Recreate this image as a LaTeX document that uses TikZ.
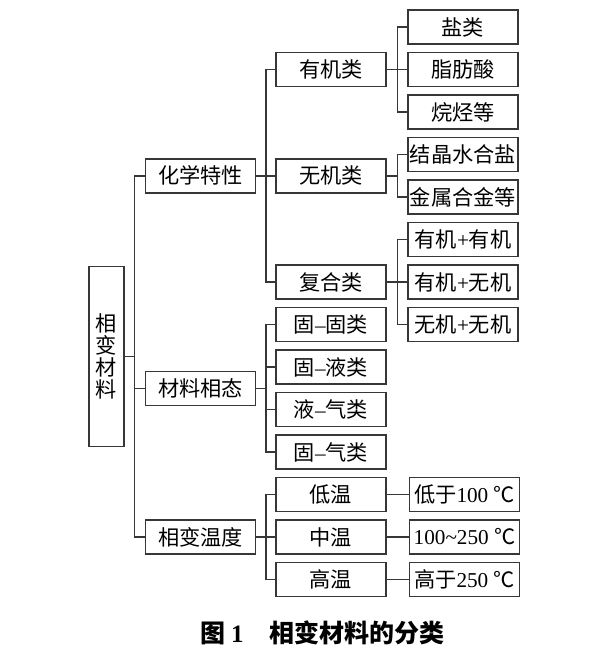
\documentclass[tikz,border=0pt]{standalone}
\usepackage{fontspec}
\setmainfont{Liberation Serif}
\newfontfamily\cjk{Noto Sans CJK SC}
\usetikzlibrary{positioning}
\definecolor{inkgray}{RGB}{55,55,55}
\newcommand\latn[1]{{\rmfamily #1}}

\begin{document}
\begin{tikzpicture}[
  x=0.5pt, y=-0.5pt,
  box/.style={draw=inkgray, line width=0.75pt, minimum height=17pt, minimum width=55pt, inner sep=1pt, align=center, font=\fontsize{10.6}{11}\selectfont\cjk},
  rootbox/.style={box, minimum width=17.5pt, minimum height=90pt},
  link/.style={draw=inkgray, line width=0.75pt}
]
\useasboundingbox (0,0) rectangle (600,661);

% root and first level
\node[rootbox] (root) at (106.5,356.4) {相\\变\\材\\料};
\node[box] (huaxue) at (200.5,175.75) {化学特性};
\node[box] (xiangtai) at (200.5,388.25) {材料相态};
\node[box] (wendu) at (200.5,537) {相变温度};

% second level
\node[box] (youji) at (331,69.5) {有机类};
\node[box] (wuji) at (331,175.75) {无机类};
\node[box] (fuhe) at (331,282) {复合类};
\node[box] (gg) at (331,324.5) {固\latn{--}固类};
\node[box] (gy) at (331,367) {固\latn{--}液类};
\node[box] (yq) at (331,409.5) {液\latn{--}气类};
\node[box] (gq) at (331,452) {固\latn{--}气类};
\node[box] (diwen) at (331,494.5) {低温};
\node[box] (zhongwen) at (331,537) {中温};
\node[box] (gaowen) at (331,579.5) {高温};

% third level
\node[box] (yan) at (463,27) {盐类};
\node[box] (zhifang) at (463,69.5) {脂肪酸};
\node[box] (wanting) at (463,112) {烷烃等};
\node[box] (jiejing) at (463,154.5) {结晶水合盐};
\node[box] (jinshu) at (463,197) {金属合金等};
\node[box] (yy) at (463,239.5) {有机\latn{+}有机};
\node[box] (yw) at (463,282) {有机\latn{+}无机};
\node[box] (ww) at (463,324.5) {无机\latn{+}无机};
\node[box, right=11pt of diwen] (dwv) {低于\latn{100 }℃};
\node[box, right=11pt of zhongwen] (zwv) {\latn{100\textasciitilde250 }℃};
\node[box, right=11pt of gaowen] (gwv) {高于\latn{250 }℃};

% caption
\node[anchor=west, inner sep=0pt, font=\fontsize{12.5}{14}\selectfont\cjk\bfseries] (cap) at (200,633) {图 \latn{\bfseries 1}\hspace{13pt}相变材料的分类};

% connectors
\foreach \k in {huaxue,xiangtai,wendu}
  \draw[link] (root.east) -- ++(10,0) |- (\k.west);
\foreach \k in {youji,wuji,fuhe}
  \draw[link] (huaxue.east) -- ++(10,0) |- (\k.west);
\foreach \k in {gg,gy,yq,gq}
  \draw[link] (xiangtai.east) -- ++(10,0) |- (\k.west);
\foreach \k in {diwen,zhongwen,gaowen}
  \draw[link] (wendu.east) -- ++(10,0) |- (\k.west);
\foreach \k in {yan,zhifang,wanting}
  \draw[link] (youji.east) -- ++(11,0) |- (\k.west);
\foreach \k in {jiejing,jinshu}
  \draw[link] (wuji.east) -- ++(11,0) |- (\k.west);
\foreach \k in {yy,yw,ww}
  \draw[link] (fuhe.east) -- ++(11,0) |- (\k.west);
\draw[link] (diwen) -- (dwv);
\draw[link] (zhongwen) -- (zwv);
\draw[link] (gaowen) -- (gwv);
\end{tikzpicture}
\end{document}
